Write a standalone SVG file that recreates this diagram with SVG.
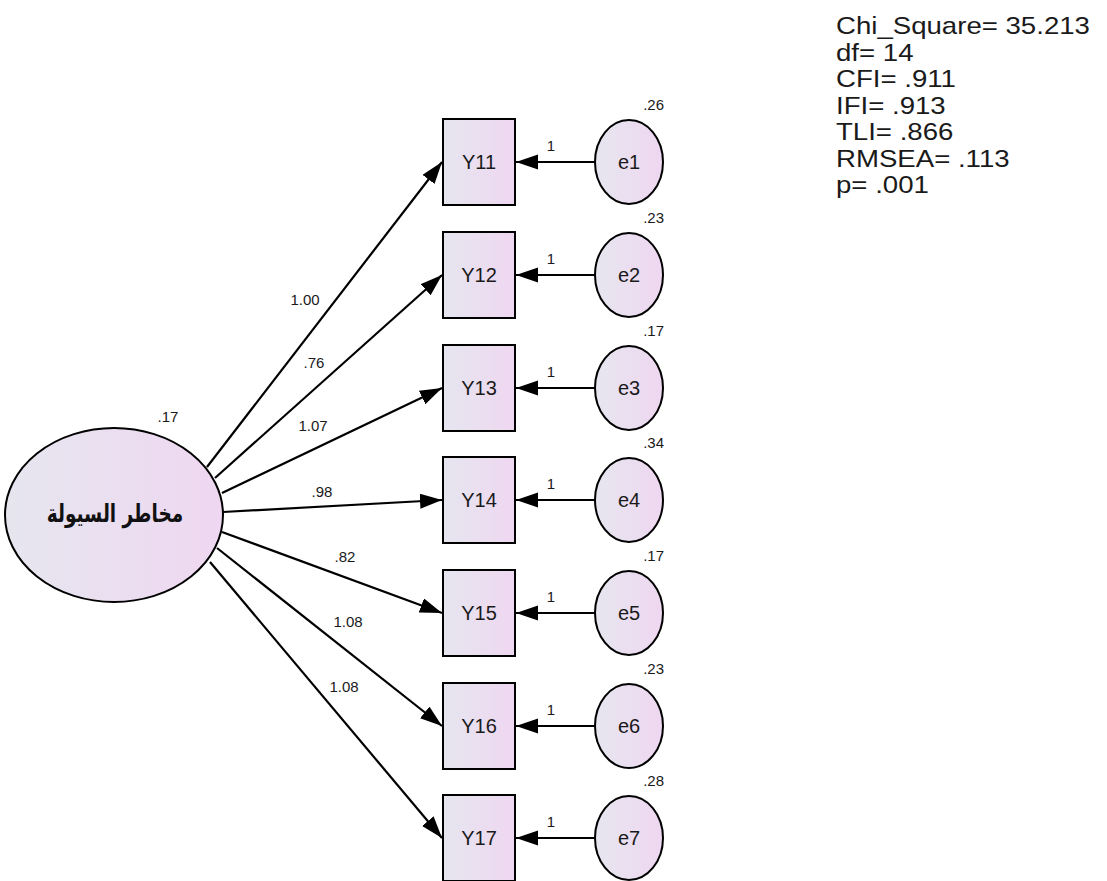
<svg xmlns="http://www.w3.org/2000/svg" width="1107" height="881" viewBox="0 0 1107 881">
<defs>
<linearGradient id="g" x1="0" y1="0" x2="1" y2="0">
<stop offset="0" stop-color="#e6e6ef"/>
<stop offset="1" stop-color="#efd7f1"/>
</linearGradient>
<marker id="ah" markerUnits="userSpaceOnUse" markerWidth="24" markerHeight="16" refX="22" refY="7.5" orient="auto">
<path d="M0,0 L22,7.5 L0,15 z" fill="#000"/>
</marker>
<style>
.n{fill:url(#g);stroke:#000;stroke-width:2}
.c line{stroke:#000;stroke-width:2.2;marker-end:url(#ah)}
text{font-family:"Liberation Sans",Arial,sans-serif;fill:#1a1a1a}
.lbl{font-size:20px;text-anchor:middle}
.sm{font-size:15px}
.st{font-size:24px}
.ar{font-family:"DejaVu Sans","Noto Sans",sans-serif;font-weight:bold;font-size:21px;text-anchor:middle;fill:#111}
</style>
</defs>
<rect width="1107" height="881" fill="#fff"/>

<g id="latent">
<ellipse class="n" cx="114" cy="515" rx="109" ry="87"/>
<text class="ar" transform="translate(115,522) scale(0.88,1.2)" direction="rtl">مخاطر السيولة</text>
<text class="sm" x="168" y="422" text-anchor="middle">.17</text>
</g>

<g id="Y11"><rect class="n" x="443" y="119" width="72" height="86"/><text class="lbl" x="479" y="169">Y11</text></g>
<g id="Y12"><rect class="n" x="443" y="232" width="72" height="86"/><text class="lbl" x="479" y="282">Y12</text></g>
<g id="Y13"><rect class="n" x="443" y="345" width="72" height="86"/><text class="lbl" x="479" y="395">Y13</text></g>
<g id="Y14"><rect class="n" x="443" y="457" width="72" height="86"/><text class="lbl" x="479" y="507">Y14</text></g>
<g id="Y15"><rect class="n" x="443" y="570" width="72" height="86"/><text class="lbl" x="479" y="620">Y15</text></g>
<g id="Y16"><rect class="n" x="443" y="683" width="72" height="86"/><text class="lbl" x="479" y="733">Y16</text></g>
<g id="Y17"><rect class="n" x="443" y="795" width="72" height="86"/><text class="lbl" x="479" y="845">Y17</text></g>

<g id="e1"><ellipse class="n" cx="629" cy="162" rx="34" ry="42"/><text class="lbl" x="629" y="169">e1</text><text class="sm" x="664" y="110" text-anchor="end">.26</text></g>
<g id="e2"><ellipse class="n" cx="629" cy="275" rx="34" ry="42"/><text class="lbl" x="629" y="282">e2</text><text class="sm" x="664" y="223" text-anchor="end">.23</text></g>
<g id="e3"><ellipse class="n" cx="629" cy="388" rx="34" ry="42"/><text class="lbl" x="629" y="395">e3</text><text class="sm" x="664" y="336" text-anchor="end">.17</text></g>
<g id="e4"><ellipse class="n" cx="629" cy="500" rx="34" ry="42"/><text class="lbl" x="629" y="507">e4</text><text class="sm" x="664" y="448" text-anchor="end">.34</text></g>
<g id="e5"><ellipse class="n" cx="629" cy="613" rx="34" ry="42"/><text class="lbl" x="629" y="620">e5</text><text class="sm" x="664" y="561" text-anchor="end">.17</text></g>
<g id="e6"><ellipse class="n" cx="629" cy="726" rx="34" ry="42"/><text class="lbl" x="629" y="733">e6</text><text class="sm" x="664" y="674" text-anchor="end">.23</text></g>
<g id="e7"><ellipse class="n" cx="629" cy="838" rx="34" ry="42"/><text class="lbl" x="629" y="845">e7</text><text class="sm" x="664" y="786" text-anchor="end">.28</text></g>

<g id="connectors" class="c">
<line x1="207" y1="467" x2="442" y2="162"/>
<line x1="215" y1="478" x2="442" y2="275"/>
<line x1="222" y1="493" x2="442" y2="388"/>
<line x1="223" y1="512" x2="442" y2="500"/>
<line x1="222" y1="532" x2="442" y2="613"/>
<line x1="217" y1="548" x2="442" y2="726"/>
<line x1="210" y1="562" x2="442" y2="838"/>
<line x1="595" y1="162" x2="516" y2="162"/>
<line x1="595" y1="275" x2="516" y2="275"/>
<line x1="595" y1="388" x2="516" y2="388"/>
<line x1="595" y1="500" x2="516" y2="500"/>
<line x1="595" y1="613" x2="516" y2="613"/>
<line x1="595" y1="726" x2="516" y2="726"/>
<line x1="595" y1="838" x2="516" y2="838"/>
</g>

<g id="loading-labels" class="sm" text-anchor="middle">
<text x="305" y="305">1.00</text>
<text x="314" y="368">.76</text>
<text x="313" y="431">1.07</text>
<text x="322" y="497">.98</text>
<text x="345" y="562">.82</text>
<text x="348" y="627">1.08</text>
<text x="344" y="692">1.08</text>
<text x="551" y="151">1</text>
<text x="551" y="264">1</text>
<text x="551" y="377">1</text>
<text x="551" y="489">1</text>
<text x="551" y="602">1</text>
<text x="551" y="715">1</text>
<text x="551" y="827">1</text>
</g>

<g id="fit-stats" class="st">
<text transform="translate(836,34) scale(1.15,1)">Chi_Square= 35.213</text>
<text transform="translate(836,61) scale(1.15,1)">df= 14</text>
<text transform="translate(836,87) scale(1.15,1)">CFI= .911</text>
<text transform="translate(836,114) scale(1.15,1)">IFI= .913</text>
<text transform="translate(836,140) scale(1.15,1)">TLI= .866</text>
<text transform="translate(836,167) scale(1.15,1)">RMSEA= .113</text>
<text transform="translate(836,193) scale(1.15,1)">p= .001</text>
</g>
</svg>
